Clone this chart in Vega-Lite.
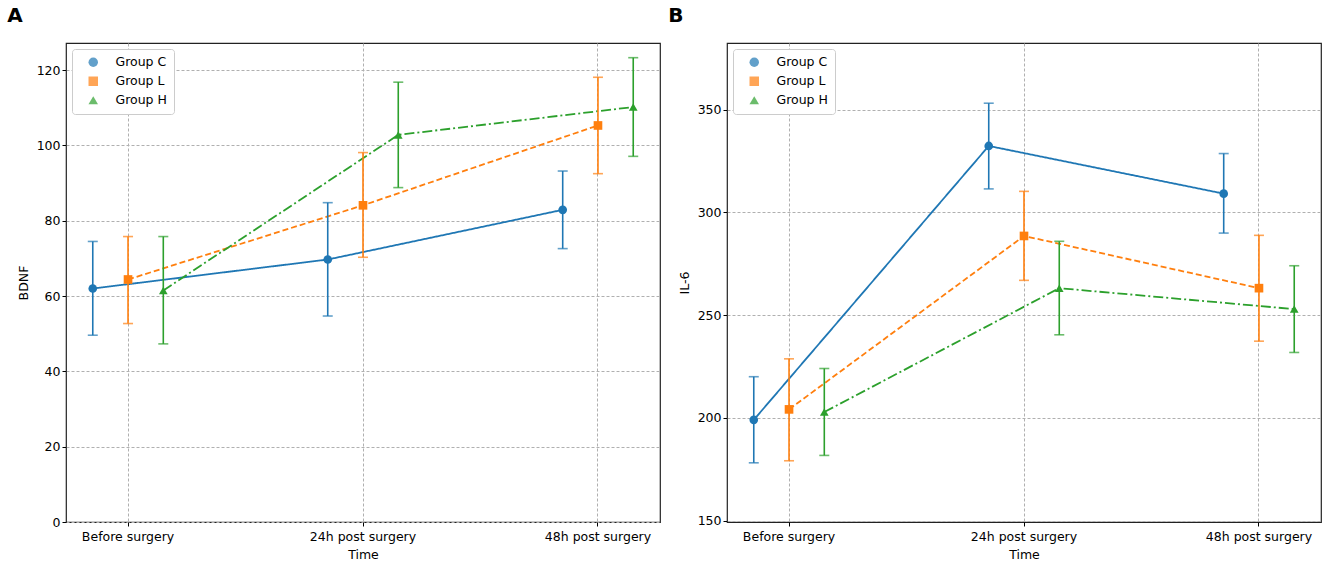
{
  "$schema": "https://vega.github.io/schema/vega-lite/v6.json",
  "background": "white",
  "padding": {"left": 6, "top": 5, "right": 3, "bottom": 5},
  "config": {
    "font": "DejaVu Sans",
    "view": {"stroke": "#222222", "strokeWidth": 1.2},
    "axis": {
      "domain": false,
      "labelFont": "DejaVu Sans",
      "labelFontSize": 12.5,
      "labelColor": "#000000",
      "titleFont": "DejaVu Sans",
      "titleFontSize": 12.5,
      "titleFontWeight": "normal",
      "titleColor": "#000000",
      "tickColor": "#000000",
      "tickSize": 4,
      "grid": true,
      "gridColor": "#b0b0b0",
      "gridDash": [3, 2],
      "gridWidth": 1
    },
    "legend": {
      "labelFont": "DejaVu Sans",
      "labelFontSize": 12.5,
      "labelColor": "#000000"
    },
    "title": {"font": "DejaVu Sans"}
  },
  "resolve": {
    "scale": {"color": "independent", "shape": "independent", "strokeDash": "independent"},
    "legend": {"color": "independent", "shape": "independent"}
  },
  "datasets": {
    "bdnf": [
      {"group": "Group C", "time": "Before surgery", "t": 0, "mean": 62.0, "lo": 49.6, "hi": 74.5},
      {"group": "Group C", "time": "24h post surgery", "t": 1, "mean": 69.7, "lo": 54.7, "hi": 84.8},
      {"group": "Group C", "time": "48h post surgery", "t": 2, "mean": 82.9, "lo": 72.6, "hi": 93.2},
      {"group": "Group L", "time": "Before surgery", "t": 0, "mean": 64.4, "lo": 52.7, "hi": 75.8},
      {"group": "Group L", "time": "24h post surgery", "t": 1, "mean": 84.1, "lo": 70.3, "hi": 98.1},
      {"group": "Group L", "time": "48h post surgery", "t": 2, "mean": 105.3, "lo": 92.5, "hi": 118.1},
      {"group": "Group H", "time": "Before surgery", "t": 0, "mean": 61.5, "lo": 47.3, "hi": 75.8},
      {"group": "Group H", "time": "24h post surgery", "t": 1, "mean": 102.8, "lo": 88.8, "hi": 116.8},
      {"group": "Group H", "time": "48h post surgery", "t": 2, "mean": 110.2, "lo": 97.1, "hi": 123.3}
    ],
    "il6": [
      {"group": "Group C", "time": "Before surgery", "t": 0, "mean": 199.0, "lo": 178.1, "hi": 220.0},
      {"group": "Group C", "time": "24h post surgery", "t": 1, "mean": 332.3, "lo": 311.4, "hi": 353.1},
      {"group": "Group C", "time": "48h post surgery", "t": 2, "mean": 309.1, "lo": 289.9, "hi": 328.6},
      {"group": "Group L", "time": "Before surgery", "t": 0, "mean": 204.1, "lo": 179.1, "hi": 228.7},
      {"group": "Group L", "time": "24h post surgery", "t": 1, "mean": 288.5, "lo": 266.9, "hi": 310.2},
      {"group": "Group L", "time": "48h post surgery", "t": 2, "mean": 263.1, "lo": 237.3, "hi": 288.8},
      {"group": "Group H", "time": "Before surgery", "t": 0, "mean": 202.8, "lo": 181.7, "hi": 224.0},
      {"group": "Group H", "time": "24h post surgery", "t": 1, "mean": 263.1, "lo": 240.4, "hi": 285.9},
      {"group": "Group H", "time": "48h post surgery", "t": 2, "mean": 252.9, "lo": 231.8, "hi": 274.0}
    ]
  },
  "spacing": 6,
  "hconcat": [
    {
      "title": {"text": "A", "anchor": "start", "frame": "bounds", "fontSize": 20, "fontWeight": "bold", "offset": 17, "dx": -10},
      "width": 594,
      "height": 479,
      "data": {"name": "bdnf"},
      "encoding": {
        "x": {
          "field": "time", "type": "nominal",
          "sort": ["Before surgery", "24h post surgery", "48h post surgery"],
          "scale": {"paddingInner": 0.472, "paddingOuter": 0},
          "axis": {"labelAngle": 0, "bandPosition": 0.5, "labelPadding": 4, "titlePadding": 6},
          "title": "Time"
        },
        "xOffset": {
          "field": "group", "type": "nominal",
          "sort": ["Group C", "Group L", "Group H"],
          "scale": {"paddingInner": 0, "paddingOuter": 0.259}
        },
        "color": {
          "field": "group", "type": "nominal",
          "sort": ["Group C", "Group L", "Group H"],
          "scale": {"domain": ["Group C", "Group L", "Group H"], "range": ["#1f77b4", "#ff7f0e", "#2ca02c"]},
          "legend": {"title": null, "orient": "top-left", "offset": 6, "strokeColor": "#cccccc", "fillColor": "white", "padding": 7, "cornerRadius": 3, "rowPadding": 6, "symbolSize": 90, "symbolStrokeWidth": 0, "symbolOffset": 8, "labelOffset": 16}
        }
      },
      "layer": [
        {
          "mark": {"type": "line", "strokeWidth": 1.8},
          "encoding": {
            "y": {"field": "mean", "type": "quantitative", "scale": {"domain": [0, 127.2], "nice": false, "zero": false}, "axis": {"values": [0, 20, 40, 60, 80, 100, 120], "titlePadding": 6}, "title": "BDNF"},
            "order": {"field": "t"},
            "strokeDash": {
              "field": "group", "type": "nominal",
              "scale": {"domain": ["Group C", "Group L", "Group H"], "range": [[1, 0], [6, 3], [10, 3, 2, 3]]},
              "legend": null
            }
          }
        },
        {
          "mark": {"type": "rule", "strokeWidth": 1.6},
          "encoding": {"y": {"field": "lo", "type": "quantitative"}, "y2": {"field": "hi"}}
        },
        {
          "mark": {"type": "tick", "thickness": 1.6, "size": 10},
          "encoding": {"y": {"field": "lo", "type": "quantitative"}}
        },
        {
          "mark": {"type": "tick", "thickness": 1.6, "size": 10},
          "encoding": {"y": {"field": "hi", "type": "quantitative"}}
        },
        {
          "mark": {"type": "point", "filled": true, "opacity": 1, "size": 75},
          "encoding": {
            "y": {"field": "mean", "type": "quantitative"},
            "shape": {
              "field": "group", "type": "nominal",
              "scale": {"domain": ["Group C", "Group L", "Group H"], "range": ["circle", "square", "triangle-up"]}
            }
          }
        }
      ]
    },
    {
      "title": {"text": "B", "anchor": "start", "frame": "bounds", "fontSize": 20, "fontWeight": "bold", "offset": 17, "dx": -10},
      "width": 594,
      "height": 479,
      "data": {"name": "il6"},
      "encoding": {
        "x": {
          "field": "time", "type": "nominal",
          "sort": ["Before surgery", "24h post surgery", "48h post surgery"],
          "scale": {"paddingInner": 0.472, "paddingOuter": 0},
          "axis": {"labelAngle": 0, "bandPosition": 0.5, "labelPadding": 4, "titlePadding": 6},
          "title": "Time"
        },
        "xOffset": {
          "field": "group", "type": "nominal",
          "sort": ["Group C", "Group L", "Group H"],
          "scale": {"paddingInner": 0, "paddingOuter": 0.259}
        },
        "color": {
          "field": "group", "type": "nominal",
          "sort": ["Group C", "Group L", "Group H"],
          "scale": {"domain": ["Group C", "Group L", "Group H"], "range": ["#1f77b4", "#ff7f0e", "#2ca02c"]},
          "legend": {"title": null, "orient": "top-left", "offset": 6, "strokeColor": "#cccccc", "fillColor": "white", "padding": 7, "cornerRadius": 3, "rowPadding": 6, "symbolSize": 90, "symbolStrokeWidth": 0, "symbolOffset": 8, "labelOffset": 16}
        }
      },
      "layer": [
        {
          "mark": {"type": "line", "strokeWidth": 1.8},
          "encoding": {
            "y": {"field": "mean", "type": "quantitative", "scale": {"domain": [149.3, 382.4], "nice": false, "zero": false}, "axis": {"values": [150, 200, 250, 300, 350], "titlePadding": 6}, "title": "IL-6"},
            "order": {"field": "t"},
            "strokeDash": {
              "field": "group", "type": "nominal",
              "scale": {"domain": ["Group C", "Group L", "Group H"], "range": [[1, 0], [6, 3], [10, 3, 2, 3]]},
              "legend": null
            }
          }
        },
        {
          "mark": {"type": "rule", "strokeWidth": 1.6},
          "encoding": {"y": {"field": "lo", "type": "quantitative"}, "y2": {"field": "hi"}}
        },
        {
          "mark": {"type": "tick", "thickness": 1.6, "size": 10},
          "encoding": {"y": {"field": "lo", "type": "quantitative"}}
        },
        {
          "mark": {"type": "tick", "thickness": 1.6, "size": 10},
          "encoding": {"y": {"field": "hi", "type": "quantitative"}}
        },
        {
          "mark": {"type": "point", "filled": true, "opacity": 1, "size": 75},
          "encoding": {
            "y": {"field": "mean", "type": "quantitative"},
            "shape": {
              "field": "group", "type": "nominal",
              "scale": {"domain": ["Group C", "Group L", "Group H"], "range": ["circle", "square", "triangle-up"]}
            }
          }
        }
      ]
    }
  ]
}
